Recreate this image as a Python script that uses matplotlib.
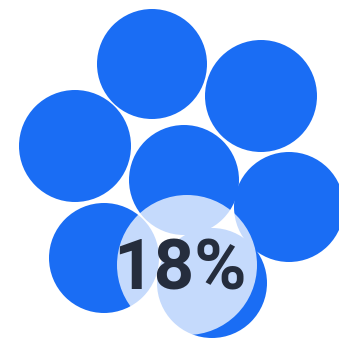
import matplotlib.pyplot as plt
from matplotlib.patches import Circle

# bubble layout (pixel units, y grows downward)
bubble_x = [152, 261, 75, 184, 289, 104, 212]
bubble_y = [64, 96, 146, 180, 207, 258, 283]
bubble_r = [55, 56, 56, 55, 55, 55, 55]

# highlighted share
label = "18%"
focus_x, focus_y, focus_r = 187, 265, 70

blue = "#1a6df4"

fig = plt.figure(figsize=(3.39, 3.46), dpi=100)
ax = fig.add_axes([0, 0, 1, 1])
ax.set_xlim(0, 339)
ax.set_ylim(346, 0)
ax.set_aspect("equal")
ax.axis("off")

for x, y, r in zip(bubble_x, bubble_y, bubble_r):
    ax.add_patch(Circle((x, y), r, color=blue, lw=0))

ax.add_patch(Circle((focus_x, focus_y), focus_r, color="white", alpha=0.75, lw=0))
ax.text(180, 270, label, ha="center", va="center", fontsize=51,
        color="#252d3d", family="Roboto", weight="bold")

fig.savefig("out.png", dpi=100)
